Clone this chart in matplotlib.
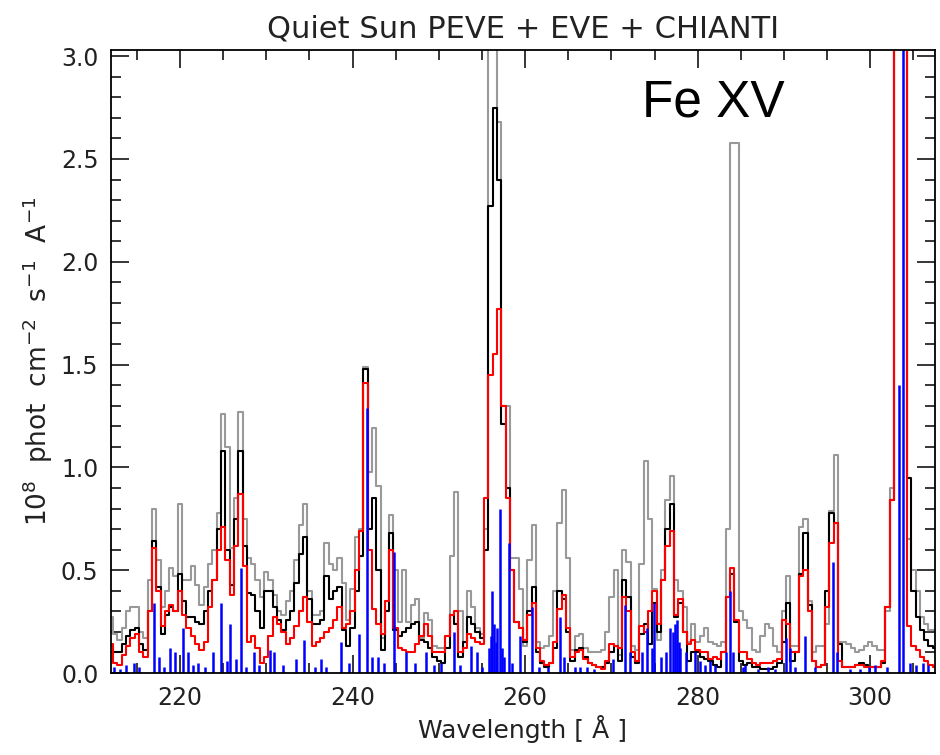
import numpy as np
import matplotlib
matplotlib.use('Agg')
from matplotlib import pyplot as plt
from matplotlib.ticker import MultipleLocator

# Wavelength grid (Angstrom), 0.5 A bins
wave = np.arange(212.0, 307.51, 0.5)

# PEVE (gray), EVE (black), CHIANTI convolved (red)
peve = [0.27, 0.19, 0.16, 0.22, 0.30, 0.32, 0.32, 0.20, 0.17, 0.45,
        0.80, 0.55, 0.32, 0.40, 0.51, 0.47, 0.82, 0.45, 0.45, 0.52,
        0.43, 0.33, 0.42, 0.53, 0.60, 0.78, 1.26, 1.10, 0.61, 0.85,
        1.27, 0.75, 0.56, 0.53, 0.45, 0.37, 0.49, 0.45, 0.38, 0.30,
        0.28, 0.35, 0.40, 0.55, 0.72, 0.82, 0.40, 0.28, 0.28, 0.30,
        0.63, 0.53, 0.50, 0.56, 0.44, 0.26, 0.41, 0.66, 0.70, 1.49,
        0.98, 1.19, 0.91, 0.17, 0.35, 0.77, 0.50, 0.25, 0.50, 0.25,
        0.33, 0.36, 0.17, 0.29, 0.26, 0.13, 0.12, 0.12, 0.18, 0.57,
        0.88, 0.30, 0.15, 0.40, 0.32, 0.22, 0.19, 0.70, 3.30, 3.30,
        2.68, 1.30, 1.30, 0.56, 0.56, 0.41, 0.13, 0.55, 0.72, 0.15,
        0.12, 0.13, 0.18, 0.40, 0.73, 0.89, 0.56, 0.11, 0.18, 0.19,
        0.12, 0.10, 0.10, 0.10, 0.11, 0.20, 0.37, 0.50, 0.09, 0.60,
        0.54, 0.13, 0.11, 0.53, 1.03, 0.75, 0.41, 0.16, 0.50, 0.84,
        0.96, 0.45, 0.40, 0.32, 0.15, 0.24, 0.15, 0.18, 0.22, 0.15,
        0.14, 0.13, 0.15, 0.70, 2.58, 2.58, 0.30, 0.26, 0.22, 0.11,
        0.10, 0.18, 0.24, 0.22, 0.13, 0.10, 0.30, 0.47, 0.13, 0.13,
        0.71, 0.75, 0.35, 0.10, 0.13, 0.13, 0.24, 0.79, 1.06, 0.15,
        0.15, 0.14, 0.12, 0.10, 0.11, 0.13, 0.15, 0.13, 0.11, 0.11,
        0.30, 0.90, 3.50, 3.50, 3.50, 0.65, 0.50, 0.40, 0.27, 0.24,
        0.21, 0.21]

eve = [0.13, 0.10, 0.10, 0.14, 0.18, 0.21, 0.22, 0.14, 0.11, 0.30,
       0.64, 0.42, 0.19, 0.28, 0.32, 0.30, 0.48, 0.35, 0.27, 0.27,
       0.25, 0.24, 0.30, 0.40, 0.45, 0.70, 1.08, 0.60, 0.43, 0.75,
       1.08, 0.62, 0.39, 0.38, 0.30, 0.22, 0.40, 0.40, 0.32, 0.26,
       0.21, 0.26, 0.30, 0.44, 0.58, 0.66, 0.36, 0.24, 0.24, 0.26,
       0.47, 0.36, 0.40, 0.42, 0.21, 0.13, 0.22, 0.40, 0.57, 1.48,
       0.70, 0.85, 0.50, 0.11, 0.30, 0.68, 0.21, 0.18, 0.20, 0.22,
       0.24, 0.25, 0.16, 0.15, 0.12, 0.08, 0.06, 0.05, 0.12, 0.28,
       0.24, 0.08, 0.15, 0.27, 0.24, 0.20, 0.17, 0.60, 2.27, 2.75,
       2.40, 1.21, 0.90, 0.50, 0.25, 0.22, 0.15, 0.30, 0.42, 0.10,
       0.05, 0.03, 0.05, 0.12, 0.40, 0.36, 0.20, 0.06, 0.11, 0.12,
       0.08, 0.05, 0.04, 0.03, 0.03, 0.05, 0.10, 0.13, 0.06, 0.45,
       0.37, 0.08, 0.05, 0.19, 0.24, 0.14, 0.34, 0.20, 0.45, 0.70,
       0.82, 0.27, 0.34, 0.20, 0.06, 0.10, 0.10, 0.08, 0.07, 0.06,
       0.04, 0.03, 0.10, 0.37, 0.48, 0.25, 0.06, 0.04, 0.05, 0.03,
       0.03, 0.02, 0.02, 0.02, 0.03, 0.05, 0.15, 0.34, 0.06, 0.10,
       0.48, 0.68, 0.33, 0.06, 0.03, 0.04, 0.40, 0.78, 0.73, 0.14,
       0.03, 0.03, 0.03, 0.04, 0.05, 0.04, 0.03, 0.03, 0.03, 0.05,
       0.32, 0.84, 3.50, 3.50, 3.50, 0.95, 0.40, 0.27, 0.21, 0.16,
       0.13, 0.12]

chianti = [0.14, 0.05, 0.04, 0.09, 0.13, 0.17, 0.19, 0.10, 0.08, 0.30,
           0.61, 0.40, 0.23, 0.30, 0.33, 0.30, 0.40, 0.28, 0.22, 0.18,
           0.14, 0.11, 0.15, 0.32, 0.45, 0.60, 0.71, 0.55, 0.38, 0.62,
           0.87, 0.52, 0.15, 0.18, 0.12, 0.05, 0.08, 0.18, 0.27, 0.24,
           0.20, 0.14, 0.17, 0.23, 0.30, 0.37, 0.25, 0.13, 0.15, 0.17,
           0.20, 0.22, 0.26, 0.32, 0.22, 0.24, 0.30, 0.50, 0.69, 1.41,
           0.60, 0.31, 0.24, 0.19, 0.35, 0.60, 0.22, 0.12, 0.11, 0.10,
           0.10, 0.14, 0.18, 0.24, 0.18, 0.10, 0.10, 0.10, 0.18, 0.28,
           0.30, 0.10, 0.12, 0.19, 0.17, 0.15, 0.14, 0.85, 1.45, 1.55,
           1.77, 1.30, 0.85, 0.50, 0.25, 0.22, 0.16, 0.28, 0.34, 0.12,
           0.06, 0.04, 0.05, 0.15, 0.31, 0.38, 0.22, 0.08, 0.10, 0.11,
           0.07, 0.05, 0.04, 0.03, 0.02, 0.06, 0.14, 0.13, 0.12, 0.37,
           0.30, 0.10, 0.06, 0.23, 0.20, 0.30, 0.40, 0.24, 0.45, 0.62,
           0.69, 0.28, 0.36, 0.20, 0.14, 0.16, 0.11, 0.10, 0.10, 0.07,
           0.08, 0.07, 0.10, 0.37, 0.51, 0.26, 0.10, 0.10, 0.07, 0.05,
           0.04, 0.05, 0.05, 0.05, 0.06, 0.07, 0.26, 0.24, 0.10, 0.10,
           0.47, 0.50, 0.30, 0.06, 0.03, 0.04, 0.32, 0.63, 0.73, 0.06,
           0.03, 0.03, 0.03, 0.04, 0.04, 0.03, 0.03, 0.03, 0.03, 0.06,
           0.32, 0.84, 3.50, 3.50, 3.50, 0.23, 0.13, 0.11, 0.08, 0.06,
           0.04, 0.03]

# CHIANTI line list (blue sticks): wavelength and intensity
line_wave = [212.4, 213.0, 213.7, 214.7, 215.3, 217.0, 217.6, 218.2, 218.8, 219.4,
             220.3, 220.9, 221.5, 222.1, 222.9, 223.8, 224.8, 225.4, 225.8, 226.5,
             227.1, 227.7, 228.6, 229.2, 230.4, 230.9, 231.9, 233.4, 234.4, 235.6,
             236.3, 236.9, 238.7, 239.6, 240.75, 241.7, 242.3, 242.9, 243.65, 244.8,
             246.2, 247.3, 248.5, 249.4, 250.2, 251.8, 252.5, 253.7, 254.4, 255.0,
             255.8, 256.0, 256.2, 256.4, 256.6, 256.8, 257.1, 257.3, 257.6, 258.1,
             258.5, 259.4, 260.8, 261.6, 262.6, 264.1, 264.5, 265.8, 266.4, 267.2,
             268.0, 270.2, 271.6, 272.2, 273.5, 274.1, 274.7, 274.9, 275.7, 276.3,
             276.8, 277.2, 277.4, 277.6, 277.8, 278.0, 278.7, 279.7, 280.3, 280.8,
             281.4, 282.0, 283.3, 283.8, 284.1, 285.2, 285.5, 287.0, 288.2, 289.0,
             290.2, 290.7, 291.3, 292.4, 293.6, 295.7, 296.1, 297.6, 298.8, 299.9,
             300.5, 301.9, 303.3, 303.8, 304.6, 305.3, 306.1, 306.7]
line_int = [0.03, 0.02, 0.04, 0.05, 0.03, 0.34, 0.08, 0.03, 0.12, 0.10,
            0.22, 0.10, 0.04, 0.05, 0.03, 0.10, 0.34, 0.06, 0.24, 0.07,
            0.51, 0.03, 0.10, 0.04, 0.11, 0.10, 0.04, 0.07, 0.16, 0.03,
            0.07, 0.03, 0.15, 0.05, 0.19, 1.29, 0.08, 0.08, 0.05, 0.59,
            0.10, 0.05, 0.10, 0.04, 0.05, 0.20, 0.04, 0.13, 0.10, 0.03,
            0.12, 0.18, 0.40, 0.24, 0.15, 0.22, 0.80, 0.12, 0.08, 0.63,
            0.05, 0.18, 0.32, 0.03, 0.03, 0.27, 0.08, 0.03, 0.03, 0.03,
            0.02, 0.07, 0.33, 0.10, 0.10, 0.22, 0.12, 0.34, 0.08, 0.10,
            0.22, 0.20, 0.24, 0.26, 0.15, 0.12, 0.10, 0.10, 0.06, 0.04,
            0.06, 0.04, 0.10, 0.40, 0.10, 0.03, 0.04, 0.02, 0.03, 0.02,
            0.17, 0.12, 0.03, 0.18, 0.03, 0.54, 0.10, 0.02, 0.02, 0.03,
            0.04, 0.03, 1.40, 3.50, 0.05, 0.04, 0.05, 0.04]

xticks = [220, 240, 260, 280, 300]
yticks = [0.0, 0.5, 1.0, 1.5, 2.0, 2.5, 3.0]

fig = plt.figure(figsize=(9.4, 7.55), dpi=100)
ax = fig.add_axes([0.118, 0.1086, 0.8766, 0.8252])

ax.plot(wave, peve, drawstyle='steps-mid', color='#999999', lw=1.5)
ax.plot(wave, eve, drawstyle='steps-mid', color='black', lw=1.5)
ax.plot(wave, chianti, drawstyle='steps-mid', color='red', lw=1.5)
ax.vlines(line_wave, 0, line_int, color='blue', lw=1.8)

ax.set_xlim(212.0, 307.5)
ax.set_ylim(0, 3.03)
ax.set_xticks(xticks)
ax.set_yticks(yticks)
ax.set_yticklabels(['%.1f' % v for v in yticks])
ax.xaxis.set_minor_locator(MultipleLocator(5))
ax.yaxis.set_minor_locator(MultipleLocator(0.1))
ax.tick_params(which='both', direction='in', top=True, right=True,
               width=1.1, labelsize=17, colors='black', labelcolor='#222222')
ax.tick_params(which='major', length=13, pad=9)
ax.tick_params(which='minor', length=7)
for s in ax.spines.values():
    s.set_linewidth(1.3)

ax.set_title('Quiet Sun PEVE + EVE + CHIANTI', fontsize=22, color='#222222', pad=9)
ax.set_xlabel('Wavelength [ Å ]', fontsize=18, color='#222222', labelpad=4)
ax.set_ylabel('10$^8$  phot  cm$^{-2}$  s$^{-1}$  A$^{-1}$', fontsize=19,
              color='#222222', labelpad=4)
ax.text(0.645, 0.915, 'Fe XV', transform=ax.transAxes, fontsize=37,
        family='Liberation Sans', color='black', va='center', ha='left')

fig.savefig('out.png', dpi=100)
